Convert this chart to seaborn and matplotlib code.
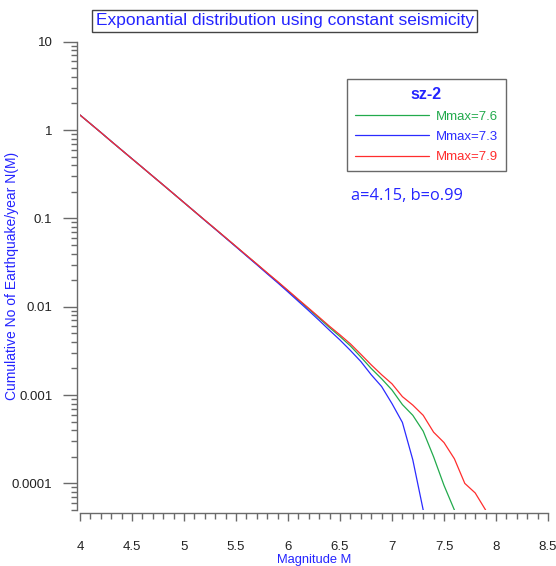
import matplotlib
matplotlib.use("Agg")
import matplotlib.pyplot as plt
from matplotlib.ticker import MultipleLocator, LogLocator, FuncFormatter, NullFormatter
import pandas as pd
import seaborn as sns

# Magnitude steps (0.1) and cumulative annual rates N(M) for each maximum magnitude
magnitude = [4.0, 4.1, 4.2, 4.3, 4.4, 4.5, 4.6, 4.7, 4.8, 4.9,
             5.0, 5.1, 5.2, 5.3, 5.4, 5.5, 5.6, 5.7, 5.8, 5.9,
             6.0, 6.1, 6.2, 6.3, 6.4, 6.5, 6.6, 6.7, 6.8, 6.9,
             7.0, 7.1, 7.2, 7.3, 7.4, 7.5, 7.6, 7.7, 7.8, 7.9]

rate_mmax_76 = [1.48, 1.18, 0.94, 0.746, 0.594, 0.473, 0.377, 0.300, 0.239, 0.190,
                0.151, 0.120, 0.0954, 0.0760, 0.0604, 0.0480, 0.0381, 0.0303, 0.0240, 0.0191,
                0.0151, 0.0119, 0.0094, 0.0074, 0.0058, 0.0046, 0.0036, 0.0027, 0.0020, 0.00153,
                0.00114, 0.00078, 0.00059, 0.00039, 0.00020, 0.000095, 0.00005]

rate_mmax_73 = [1.48, 1.18, 0.94, 0.746, 0.594, 0.473, 0.377, 0.300, 0.239, 0.190,
                0.151, 0.120, 0.0950, 0.0756, 0.0600, 0.0476, 0.0377, 0.0299, 0.0236, 0.0187,
                0.0147, 0.0115, 0.0090, 0.0070, 0.0054, 0.0042, 0.0032, 0.0024, 0.0017, 0.00125,
                0.00080, 0.00049, 0.000185, 0.00005]

rate_mmax_79 = [1.48, 1.18, 0.94, 0.746, 0.594, 0.473, 0.377, 0.300, 0.239, 0.190,
                0.151, 0.120, 0.0956, 0.0762, 0.0606, 0.0482, 0.0383, 0.0305, 0.0242, 0.0193,
                0.0153, 0.0121, 0.0096, 0.0076, 0.0060, 0.0048, 0.0038, 0.0029, 0.0022, 0.0017,
                0.00134, 0.00096, 0.00077, 0.00059, 0.00038, 0.00029, 0.00019, 0.00010, 0.000078, 0.00005]

series_labels = ["Mmax=7.6", "Mmax=7.3", "Mmax=7.9"]
series_rates = [rate_mmax_76, rate_mmax_73, rate_mmax_79]

x_ticks = [4, 4.5, 5, 5.5, 6, 6.5, 7, 7.5, 8, 8.5]
y_ticks = [0.0001, 0.001, 0.01, 0.1, 1, 10]

frames = []
for label, rates in zip(series_labels, series_rates):
    frames.append(pd.DataFrame({"M": magnitude[:len(rates)], "N": rates, "series": label}))
df = pd.concat(frames, ignore_index=True)

sns.set_style("ticks")
plt.rcParams["font.family"] = ["Liberation Sans", "DejaVu Sans"]

BLUE = "#2424ff"
palette = {"Mmax=7.6": "#22aa4c", "Mmax=7.3": "#2b2bff", "Mmax=7.9": "#ff2d2d"}
AXIS_GRAY = "#6a6a6a"

fig = plt.figure(figsize=(5.56, 5.66), dpi=100)
ax = fig.add_axes([80 / 556, 1 - 510 / 566, 468 / 556, 468.3 / 566])

sns.lineplot(data=df, x="M", y="N", hue="series", hue_order=series_labels,
             palette=palette, linewidth=0.9, ax=ax, legend=False, sort=False,
             estimator=None)

ax.set_yscale("log")
ax.set_xlim(4, 8.5)

ax.xaxis.set_minor_locator(MultipleLocator(0.1))
ax.set_xticks(x_ticks)
ax.xaxis.set_major_formatter(FuncFormatter(lambda v, p: f"{v:g}"))
ax.set_yticks(y_ticks)
ax.yaxis.set_minor_locator(LogLocator(base=10, subs=range(2, 10), numticks=20))
ax.yaxis.set_major_formatter(FuncFormatter(lambda v, p: f"{v:g}"))
ax.yaxis.set_minor_formatter(NullFormatter())
ax.set_ylim(5e-5, 10)

for side in ("top", "right"):
    ax.spines[side].set_visible(False)
for side in ("left", "bottom"):
    ax.spines[side].set_color(AXIS_GRAY)
    ax.spines[side].set_linewidth(1.0)
ax.spines["left"].set_position(("outward", 2.4))
ax.spines["bottom"].set_position(("outward", 2.5))

ax.tick_params(axis="x", which="major", length=6, width=1, color=AXIS_GRAY,
               pad=13.5, labelsize=9.5, labelcolor="#222222")
ax.tick_params(axis="x", which="minor", length=4, width=1, color=AXIS_GRAY)
ax.tick_params(axis="y", which="major", length=10, width=1, color=AXIS_GRAY,
               pad=7.5, labelsize=9.5, labelcolor="#222222")
ax.tick_params(axis="y", which="minor", length=4.5, width=1, color=AXIS_GRAY)

ax.set_xlabel("Magnitude M", color=BLUE, fontsize=9.3, labelpad=1)
ax.set_ylabel("Cumulative No of Earthquake/year N(M)", color=BLUE, fontsize=10)
ax.yaxis.label.set_verticalalignment("center")
ax.yaxis.set_label_coords((12 - 80) / 468, (510 - 276) / 468.3)

# Title in a framed box above the plot
fig.text(284.5 / 556, 1 - 21 / 566, "Exponantial distribution using constant seismicity",
         ha="center", va="center", color=BLUE, fontsize=12.5,
         bbox=dict(boxstyle="square,pad=0.22", fc="white", ec="#444444", lw=1.0))

# Legend with series colours
handles = [plt.Line2D([], [], color=palette[s], lw=0.9) for s in series_labels]
leg = ax.legend(handles, series_labels, title="sz-2", loc="upper left",
                bbox_to_anchor=(346.7 / 556, 1 - 79.3 / 566), bbox_transform=fig.transFigure,
                frameon=True, fancybox=False, edgecolor="#444444", fontsize=9.5,
                title_fontsize=11.5, handlelength=5.6, handletextpad=0.55,
                borderpad=0.6, labelspacing=0.62, borderaxespad=0)
leg.get_frame().set_linewidth(1.0)
leg.get_title().set_color(BLUE)
leg.get_title().set_fontweight("bold")
for txt, s in zip(leg.get_texts(), series_labels):
    txt.set_color(palette[s])

fig.text(350.7 / 556, 1 - 195.7 / 566, "a=4.15, b=o.99", ha="left", va="center",
         color=BLUE, fontsize=11.8, family=["Open Sans", "DejaVu Sans"])

fig.savefig("out.png", dpi=100)
